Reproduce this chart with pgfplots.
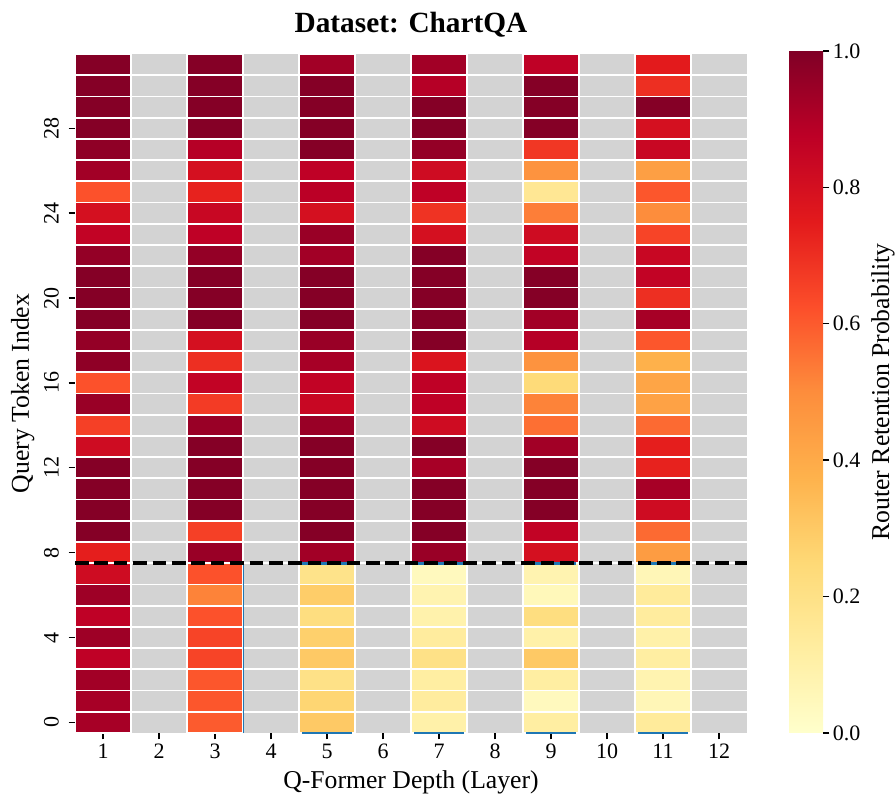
\documentclass[border=0pt]{standalone}
\usepackage{fontspec}
\setmainfont{Liberation Serif}
\usepackage{pgfplots}
\pgfplotsset{compat=1.18}
\usepackage{pgfplotstable}

\definecolor{cellgray}{RGB}{211,211,211}
\definecolor{mplblue}{RGB}{31,119,180}

\pgfdeclareplotmark{cell}{%
  \pgfpathrectangle{\pgfpoint{-28pt}{-10.609375pt}}{\pgfpoint{56pt}{21.21875pt}}%
  \pgfusepathqfillstroke}

\pgfplotsset{
  cellplot/.style={scatter, only marks, mark=cell, point meta=explicit,
    scatter/use mapped color={draw=white, fill=mapped color, line width=1.8pt}},
}

% rows: query token index; columns: retention probability in layers 1,3,5,7,9,11
\pgfplotstableread{
y  c1   c3   c5   c7   c9   c11
0  0.92 0.60 0.30 0.10 0.12 0.14
1  0.92 0.61 0.26 0.13 0.04 0.06
2  0.93 0.61 0.20 0.12 0.12 0.08
3  0.87 0.65 0.30 0.20 0.30 0.12
4  0.94 0.65 0.28 0.13 0.10 0.10
5  0.87 0.62 0.22 0.09 0.22 0.13
6  0.94 0.52 0.29 0.08 0.05 0.14
7  0.82 0.62 0.19 0.04 0.08 0.06
8  0.74 0.95 0.93 0.95 0.80 0.45
9  0.99 0.66 0.99 0.99 0.86 0.57
10 0.99 0.99 0.99 0.99 0.99 0.82
11 0.99 0.99 0.99 0.99 0.99 0.92
12 0.99 0.99 0.99 0.92 0.99 0.73
13 0.82 0.99 0.99 0.99 0.93 0.74
14 0.66 0.95 0.95 0.82 0.56 0.57
15 0.95 0.67 0.84 0.87 0.52 0.43
16 0.62 0.86 0.86 0.87 0.24 0.42
17 0.97 0.70 0.92 0.78 0.48 0.38
18 0.96 0.80 0.95 0.99 0.89 0.61
19 0.99 0.99 0.99 0.99 0.93 0.92
20 0.99 0.99 0.99 0.99 0.99 0.70
21 0.99 0.99 0.99 0.99 0.99 0.86
22 0.96 0.96 0.93 0.99 0.86 0.84
23 0.86 0.87 0.95 0.80 0.82 0.65
24 0.80 0.84 0.80 0.69 0.53 0.50
25 0.62 0.73 0.88 0.87 0.16 0.61
26 0.93 0.80 0.87 0.82 0.48 0.44
27 0.97 0.89 0.99 0.96 0.68 0.84
28 0.99 0.99 0.99 0.99 0.99 0.80
29 0.99 0.99 0.99 0.99 0.99 0.99
30 0.99 0.99 0.99 0.89 0.99 0.70
31 0.99 0.99 0.93 0.93 0.87 0.75
}\heat

\begin{document}
\begin{tikzpicture}
\path[use as bounding box] (0,0) rectangle (896pt,800pt);
\begin{axis}[
  at={(75pt,67pt)}, anchor=south west,
  scale only axis, width=672pt, height=679pt,
  xmin=0.5, xmax=12.5, ymin=-0.5, ymax=31.5,
  axis background/.style={fill=cellgray},
  axis line style={draw=none},
  clip marker paths=true,
  xtick={1,2,...,12}, ytick={0,4,...,28},
  minor xtick={1.5,2.5,...,11.5},
  minor ytick={0.5,1.5,...,30.5},
  xminorgrids=true, yminorgrids=true,
  minor grid style={white, line width=1.8pt},
  minor tick length=0pt,
  tick align=outside, major tick length=6.4pt,
  tick pos=left,
  major tick style={line width=1.4pt, black},
  /pgf/number format/assume math mode=true,
  tick label style={font=\fontsize{22}{26}\selectfont, black},
  xticklabel style={anchor=base, yshift=-19.5pt},
  yticklabel style={xshift=-10pt, rotate=90, anchor=base},
  colormap={ylorrd}{rgb255=(255,255,204) rgb255=(255,237,160) rgb255=(254,217,118)
    rgb255=(254,178,76) rgb255=(253,141,60) rgb255=(252,78,42) rgb255=(227,26,28)
    rgb255=(189,0,38) rgb255=(128,0,38)},
  point meta min=0, point meta max=1,
  title={Dataset: ChartQA},
  title style={at={(axis description cs:0.5,1)}, anchor=base, yshift=15pt,
    font=\fontsize{29.3}{34}\selectfont\bfseries},
  xlabel={Q-Former Depth (Layer)},
  ylabel={Query Token Index},
  every axis x label/.style={at={(axis description cs:0.5,0)}, anchor=base, yshift=-55pt,
    font=\fontsize{25.7}{30}\selectfont},
  every axis y label/.style={at={(axis description cs:0,0.5)}, xshift=-46pt, rotate=90, anchor=base,
    font=\fontsize{25.7}{30}\selectfont},
  colorbar,
  colorbar/width=34pt,
  colorbar style={
    at={(parent axis.south east)}, anchor=south west, xshift=33.5pt,
    scale only axis, width=34pt, height=682pt,
    axis line style={draw=none},
    ytick={0,0.2,0.4,0.6,0.8,1},
    yticklabel style={rotate=0, anchor=west, /pgf/number format/.cd, fixed, fixed zerofill, precision=1, assume math mode=true},
    tick align=outside, major tick length=6.4pt,
    ytick pos=right, yticklabel pos=right,
    ylabel={Router Retention Probability},
    every axis y label/.style={at={(axis description cs:1,0.5)}, xshift=66pt, rotate=90, anchor=base,
      font=\fontsize{25.7}{30}\selectfont},
  },
]
\addplot[cellplot] table[x expr=1,  y=y, meta=c1]  {\heat};
\addplot[cellplot] table[x expr=3,  y=y, meta=c3]  {\heat};
\addplot[cellplot] table[x expr=5,  y=y, meta=c5]  {\heat};
\addplot[cellplot] table[x expr=7,  y=y, meta=c7]  {\heat};
\addplot[cellplot] table[x expr=9,  y=y, meta=c9]  {\heat};
\addplot[cellplot] table[x expr=11, y=y, meta=c11] {\heat};
% thin blue outline segments
\addplot[mplblue, line width=2.6pt, unbounded coords=jump, forget plot] coordinates {
  (4.55,-0.5) (5.45,-0.5) (nan,nan) (6.55,-0.5) (7.45,-0.5) (nan,nan)
  (8.55,-0.5) (9.45,-0.5) (nan,nan) (10.55,-0.5) (11.45,-0.5) (nan,nan)
  (4.55,7.5) (5.45,7.5) (nan,nan) (6.55,7.5) (7.45,7.5) (nan,nan)
  (8.55,7.5) (9.45,7.5) (nan,nan) (10.55,7.5) (11.45,7.5)};
\addplot[mplblue, line width=0.9pt, forget plot] coordinates {(3.5,-0.5) (3.5,7.4)};
% split between first 8 query tokens and the rest
\addplot[black, line width=3.6pt, dash pattern=on 13.5pt off 5.9pt, forget plot] coordinates {(0.5,7.5) (12.5,7.5)};
\end{axis}
\end{tikzpicture}
\end{document}
